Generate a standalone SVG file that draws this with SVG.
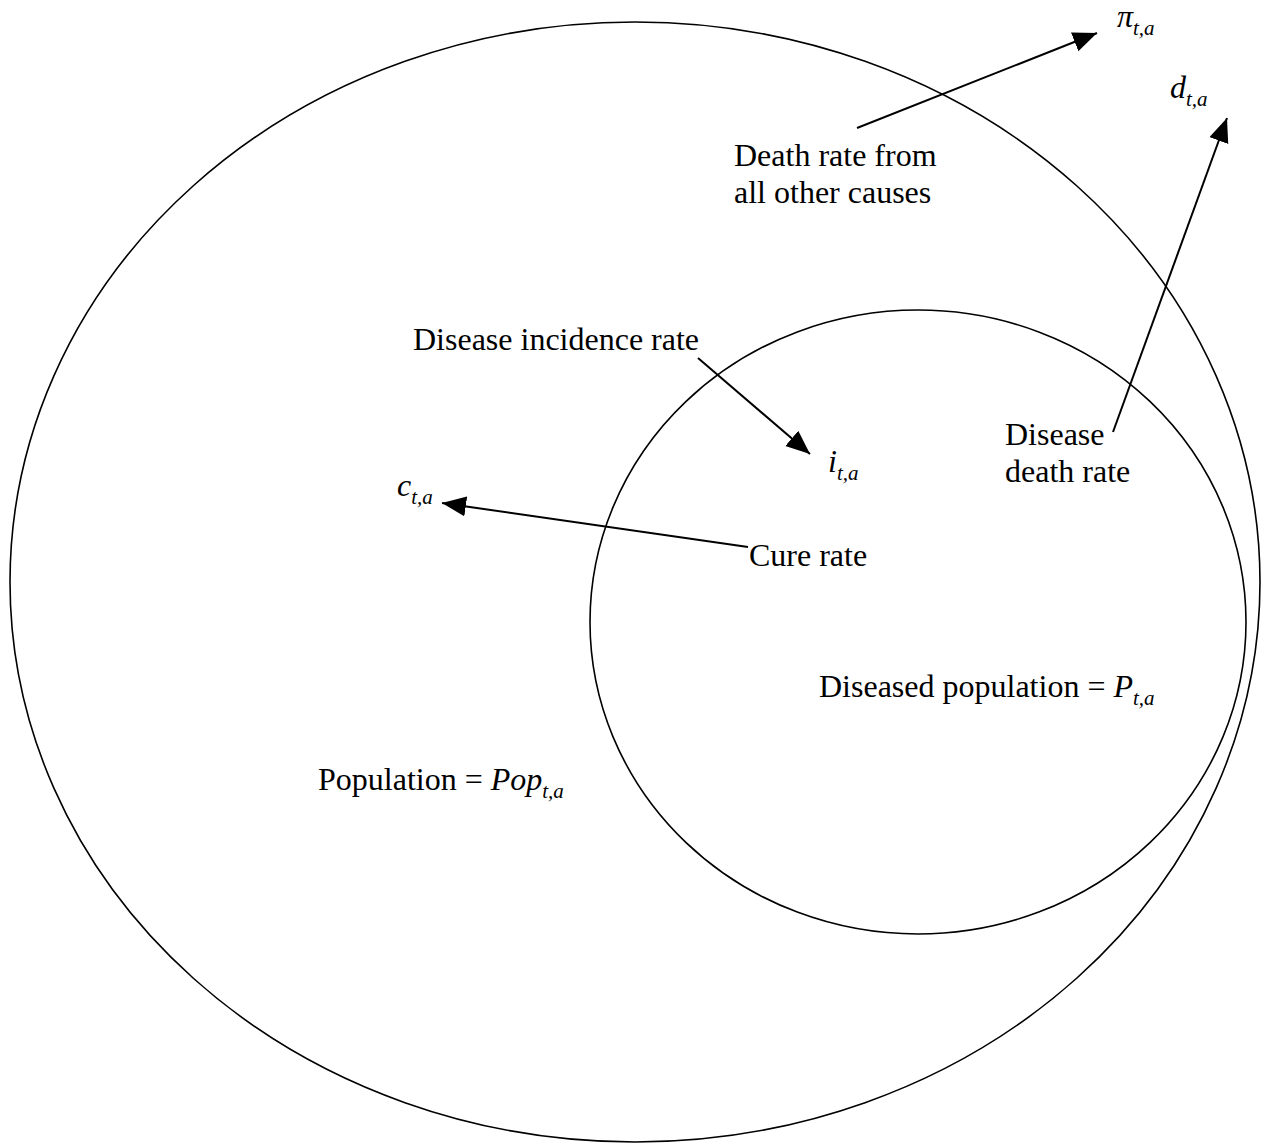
<svg xmlns="http://www.w3.org/2000/svg" width="1269" height="1144" viewBox="0 0 1269 1144">
<style>
.sh{fill:none;stroke:#000;stroke-width:1.6}
.ln{stroke:#000;stroke-width:2;fill:none;marker-end:url(#ah)}
text{font-family:"Liberation Serif","Times New Roman",serif;font-size:32px;fill:#000}
.it{font-style:italic}
.sub{font-size:21px;font-style:italic}
</style>
<defs>
<marker id="ah" markerUnits="userSpaceOnUse" markerWidth="28" markerHeight="22" refX="24" refY="10" orient="auto">
<path d="M0,0 L24,10 L0,20 Z" fill="#000"/>
</marker>
</defs>
<rect width="1269" height="1144" fill="#fff"/>
<g id="population">
<ellipse class="sh" cx="635" cy="582" rx="625" ry="560"/>
<text x="318" y="790">Population = <tspan class="it">Pop</tspan><tspan class="sub" dy="8">t,a</tspan></text>
</g>
<g id="diseased">
<ellipse class="sh" cx="918" cy="622" rx="328" ry="312"/>
<text x="819" y="697">Diseased population = <tspan class="it">P</tspan><tspan class="sub" dy="8">t,a</tspan></text>
</g>
<g id="pi"><text x="1117" y="27" class="it">π<tspan class="sub" dy="8">t,a</tspan></text></g>
<g id="d"><text x="1170" y="98" class="it">d<tspan class="sub" dy="8">t,a</tspan></text></g>
<g id="i"><text x="828" y="472" class="it">i<tspan class="sub" dy="8">t,a</tspan></text></g>
<g id="c"><text x="397" y="496" class="it">c<tspan class="sub" dy="8">t,a</tspan></text></g>
<g id="lbl-other"><text x="734" y="166">Death rate from</text><text x="734" y="203">all other causes</text></g>
<g id="lbl-incidence"><text x="413" y="350">Disease incidence rate</text></g>
<g id="lbl-death"><text x="1005" y="445">Disease</text><text x="1005" y="482">death rate</text></g>
<g id="lbl-cure"><text x="749" y="566">Cure rate</text></g>
<g id="connectors">
<line class="ln" x1="857" y1="128" x2="1097" y2="33"/>
<line class="ln" x1="1113" y1="432" x2="1227" y2="118"/>
<line class="ln" x1="698" y1="358" x2="810" y2="454"/>
<line class="ln" x1="748" y1="547" x2="442" y2="503"/>
</g>
</svg>
